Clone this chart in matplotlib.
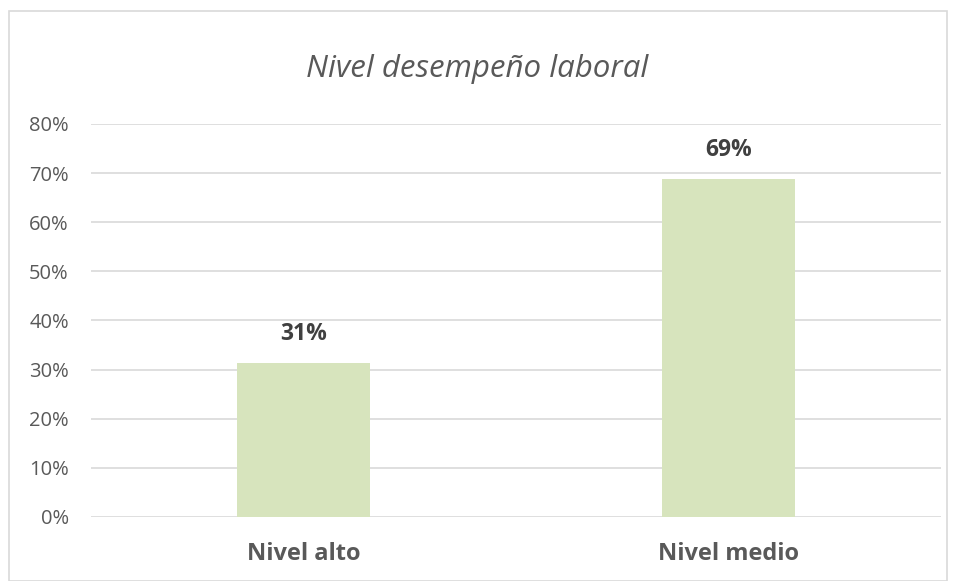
import numpy as np
import matplotlib.pyplot as plt
from matplotlib.patches import Rectangle
from matplotlib.ticker import PercentFormatter

categories = ["Nivel alto", "Nivel medio"]
values = [31.25, 68.75]
labels = ["31%", "69%"]
yticks = [0, 10, 20, 30, 40, 50, 60, 70, 80]

plt.rcParams['font.family'] = ['Open Sans', 'DejaVu Sans']

fig = plt.figure(figsize=(9.55, 5.81), dpi=100)
ax = fig.add_axes([0.0953, 0.1102, 0.89, 0.6764])

# outer chart border
fig.patches.append(Rectangle((9/955, 0), 938/955, 570/581, transform=fig.transFigure,
                             fill=False, edgecolor='#d9d9d9', linewidth=1.2))

x = np.arange(len(categories))
ax.bar(x, values, width=0.313, color='#d7e4bd', zorder=2)
for xi, v, lab in zip(x, values, labels):
    ax.text(xi, v + 3.6, lab, ha='center', va='bottom', fontsize=16.5,
            fontweight='bold', color='#404040')

ax.set_xlim(-0.5, 1.5)
ax.set_ylim(0, 80)
ax.set_yticks(yticks)
ax.yaxis.set_major_formatter(PercentFormatter(decimals=0))
ax.set_xticks(x)
ax.set_xticklabels(categories, fontsize=17, fontweight='bold', color='#595959')
ax.tick_params(axis='y', labelsize=14.5, colors='#595959', length=0, pad=16)
ax.tick_params(axis='x', length=0, pad=18)
ax.grid(axis='y', color='#d9d9d9', linewidth=1.2, zorder=0)
for s in ax.spines.values():
    s.set_visible(False)

fig.text(0.5, 0.882, "Nivel desempeño laboral", ha='center', va='center',
         fontsize=22.5, style='italic', color='#595959')

fig.savefig('out.png', dpi=100)
